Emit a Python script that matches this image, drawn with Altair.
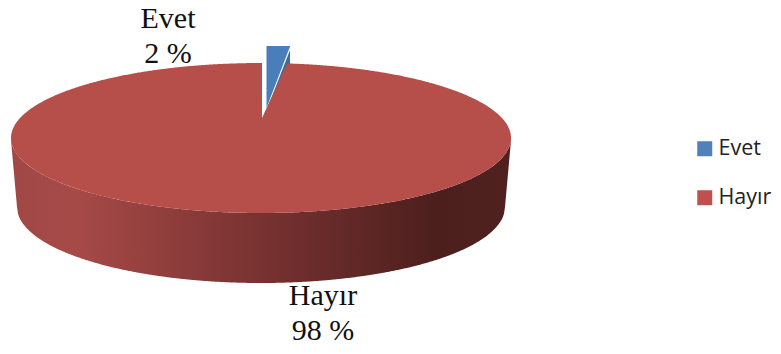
import numpy as np
import pandas as pd
import altair as alt

categories = ["Evet", "Hayır"]
values = [2, 98]
legend_colors = ["#4f81bd", "#c0504d"]

TOP = "#b64e4a"
BLUE = "#4a7ebb"
BLUE_DARK = "#3e6a9e"
W, H = 765, 338

# Unit ellipse: one x unit = the pie's half width, one y unit = the top face's half height.
RX, RY = 250.0, 75.0
CX, CY = 261.0, 138.0
X = lambda p: (np.asarray(p, dtype=float) - CX) / RX
Y = lambda p: (CY - np.asarray(p, dtype=float)) / RY
share = values[0] / sum(values)
wedge = np.sin(2 * np.pi * share) * 0.8   # projected width of the small slice
apex_y = 0.267                             # perspective moves the pie's hub up
gap_x = 0.004

def top_y(x):
    return np.sqrt(np.clip(1 - x ** 2, 0, None))

# top face, with a notch cut out for the pulled-out slice
xs = np.unique(np.concatenate([np.linspace(-1, 1, 401), 1 - np.geomspace(1e-5, 0.05, 30), -1 + np.geomspace(1e-5, 0.05, 30)]))
xs = np.sort(np.concatenate([xs, [gap_x, gap_x + 1e-4, gap_x + wedge]]))
upper = top_y(xs)
inside = (xs > gap_x) & (xs < gap_x + wedge)
t = (xs[inside] - gap_x) / wedge
upper[inside] = apex_y + (top_y(gap_x + wedge) - apex_y) * t
face = pd.DataFrame({"x": xs, "y": upper, "y2": -top_y(xs), "cat": categories[1]})

# side wall, bottom ellipse is a little narrower
bot_rx, bot_cy, bot_ry = 244 / RX, Y(207.0), 76 / RY
sx = np.linspace(-1, 1, 501)
sy = -top_y(sx)
sy2 = bot_cy - bot_ry * np.sqrt(np.clip(1 - (sx / bot_rx) ** 2, 0, None))
rim = np.abs(sx) > bot_rx
sy2[rim] = (bot_cy * (np.abs(sx[rim]) - 1) / (bot_rx - 1)) + (-0.03) * (bot_rx - np.abs(sx[rim])) / (bot_rx - 1)
side = pd.DataFrame({"x": sx, "y": sy, "y2": sy2})

# the pulled-out slice
bx = np.array([266.5, 290.0])
blue = pd.DataFrame({"x": X(bx), "y": Y([46.0, 46.0]), "y2": Y([108.0, 46.5])})
blue_dark = pd.DataFrame({"x": X([267.5, 290.0]), "y": Y([108.0, 50.0]), "y2": Y([109.0, 90.0])})

labels = pd.DataFrame({
    "x": X([168.0, 323.0]),
    "y": Y([28.0, 305.0]),
    "t": [f"{c}\n{v} %" for c, v in zip(categories, values)],
})

sx_scale = alt.Scale(domain=[float(X(8)), float(X(8 + W))], nice=False, zero=False)
sy_scale = alt.Scale(domain=[float(Y(8 + H)), float(Y(8))], nice=False, zero=False)
ex = alt.X("x:Q", scale=sx_scale, axis=None)
ey = alt.Y("y:Q", scale=sy_scale, axis=None)

side_fill = alt.Gradient(
    gradient="linear", x1=0, x2=1, y1=0, y2=0,
    stops=[
        alt.GradientStop(offset=0, color="#a04846"),
        alt.GradientStop(offset=0.13, color="#a64a47"),
        alt.GradientStop(offset=0.5, color="#783231"),
        alt.GradientStop(offset=0.85, color="#4c1f1d"),
        alt.GradientStop(offset=1, color="#4f211f"),
    ],
)

layers = [
    alt.Chart(blue).mark_area(color=BLUE).encode(x=ex, y=ey, y2="y2:Q"),
    alt.Chart(blue_dark).mark_area(color=BLUE_DARK).encode(x=ex, y=ey, y2="y2:Q"),
    alt.Chart(side).mark_area(color=side_fill).encode(x=ex, y=ey, y2="y2:Q"),
    alt.Chart(face).mark_area(color=TOP).encode(x=ex, y=ey, y2="y2:Q"),
    alt.Chart(labels).mark_text(
        font="Liberation Serif", fontSize=30, color="#111111", lineBreak="\n",
        lineHeight=35, align="center", baseline="alphabetic",
    ).encode(x=ex, y=ey, text="t:N"),
    alt.Chart(pd.DataFrame({"cat": categories, "x": [0.0, 0.0], "y": [0.0, 0.0]})).mark_square(size=0, opacity=0).encode(
        x=ex, y=ey,
        color=alt.Color(
            "cat:N",
            scale=alt.Scale(domain=categories, range=legend_colors),
            legend=alt.Legend(
                title=None, orient="none", legendX=686, legendY=130,
                symbolType="square", symbolSize=225, symbolOpacity=1,
                symbolStrokeWidth=0, labelFont="Open Sans", labelFontSize=21.5,
                labelColor="#222222", labelOffset=3, rowPadding=26,
                padding=0, labelLimit=200,
            ),
        ),
    ),
]

chart = alt.layer(*layers).properties(
    width=W, height=H, padding=0, background="white",
    autosize=alt.AutoSizeParams(type="none"),
).configure_view(stroke=None)

chart.save("out.html", embed_options={"renderer": "svg", "actions": False})
